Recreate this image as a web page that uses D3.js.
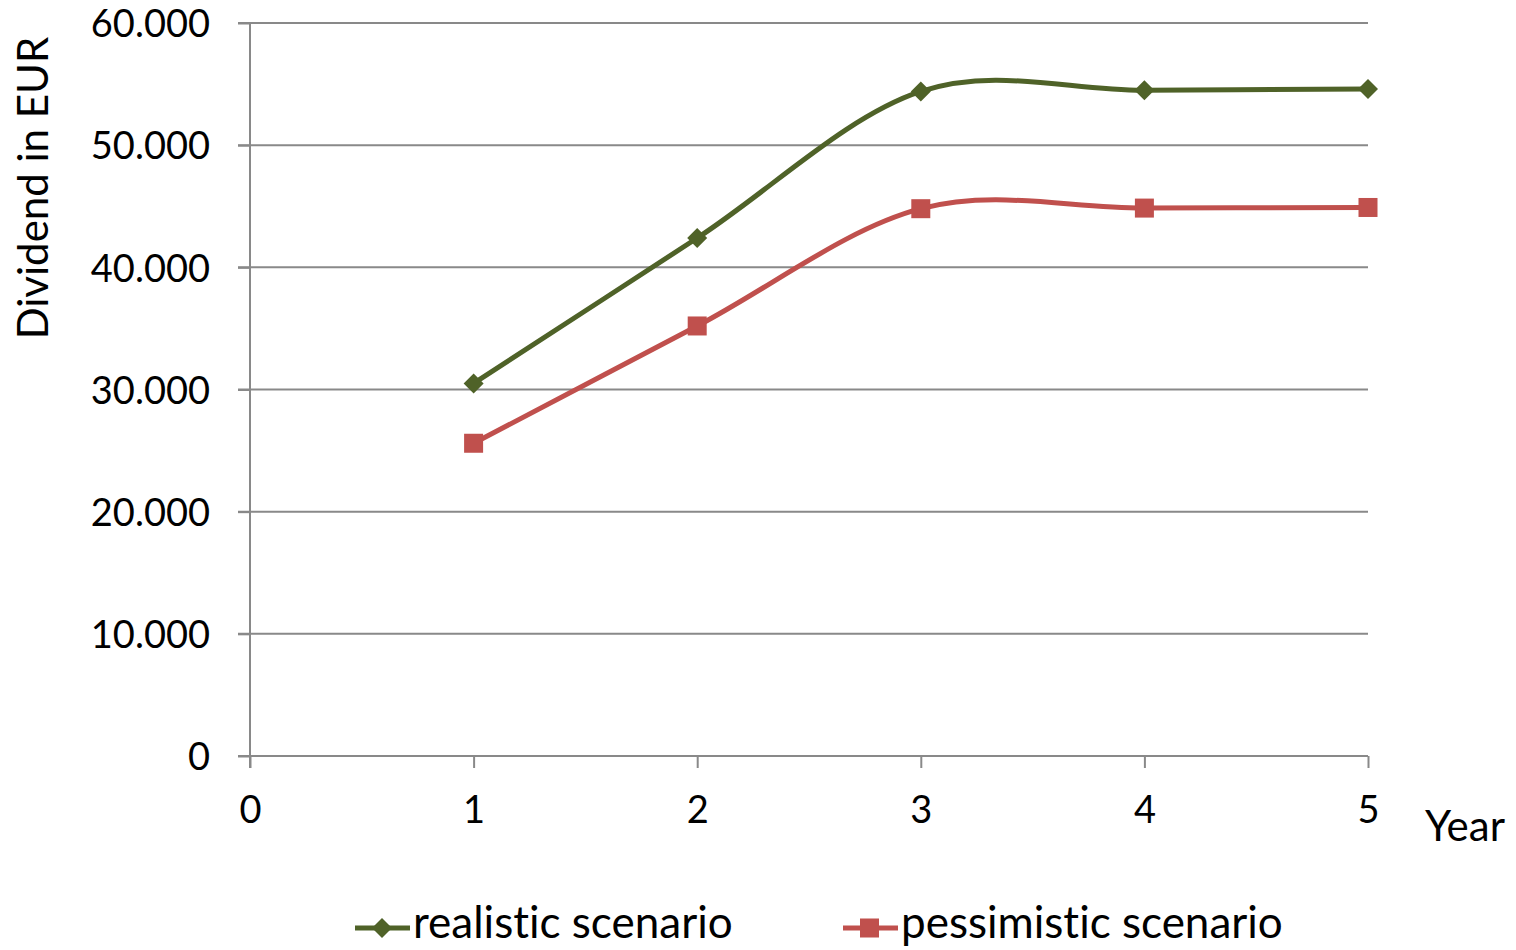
<!DOCTYPE html>
<html><head><meta charset="utf-8">
<script src="https://cdn.jsdelivr.net/npm/d3@7"></script>
<style>body{margin:0;background:#fff}svg{display:block}text{font-family:Lato,"Open Sans",sans-serif;fill:#000;font-variant-ligatures:none}</style>
</head><body><svg id="c" width="1516" height="950"></svg>
<script>
const years = [1, 2, 3, 4, 5];
const realistic = [30500, 42400, 54400, 54500, 54600];
const pessimistic = [25600, 35200, 44800, 44850, 44900];
const yTicks = [0, 10000, 20000, 30000, 40000, 50000, 60000];
const xTicks = [0, 1, 2, 3, 4, 5];
const seriesNames = ["realistic scenario", "pessimistic scenario"];

const svg = d3.select("#c");
const x = d3.scaleLinear().domain([0, 5]).range([250, 1368]);
const y = d3.scaleLinear().domain([0, 60000]).range([756, 23]);
const fmt = v => v === 0 ? "0" : d3.format(",")(v).replace(/,/g, ".");
const grid = "#898989";

// gridlines
svg.append("g").selectAll("line").data(yTicks.filter(d => d > 0)).join("line")
  .attr("x1", 238).attr("x2", x(5)).attr("y1", d => y(d)).attr("y2", d => y(d))
  .attr("stroke", grid).attr("stroke-width", 2);
// y axis
const ya = svg.append("g").attr("transform", `translate(${x(0)},0)`)
  .call(d3.axisLeft(y).tickValues(yTicks).tickFormat(fmt).tickSize(12).tickPadding(28));
ya.select(".domain").attr("stroke", grid).attr("stroke-width", 2).attr("d", `M0,${y(60000)}V${y(0)+12}`);
ya.selectAll(".tick line").attr("stroke", grid).attr("stroke-width", 2);
ya.selectAll(".tick text").attr("font-size", 38).attr("font-family", "Lato").attr("dy", "0.36em").attr("fill", "#000");
// x axis
const xa = svg.append("g").attr("transform", `translate(0,${y(0)})`)
  .call(d3.axisBottom(x).tickValues(xTicks).tickFormat(d3.format("d")).tickSize(12).tickPadding(28));
xa.select(".domain").attr("stroke", grid).attr("stroke-width", 2).attr("d", `M238,0H${x(5)}`);
xa.selectAll(".tick line").attr("stroke", grid).attr("stroke-width", 2);
xa.selectAll(".tick text").attr("font-size", 38).attr("font-family", "Lato").attr("fill", "#000");

// axis titles
svg.append("text").attr("transform", "translate(48,188) rotate(-90)").attr("text-anchor", "middle")
  .attr("font-size", 42).text("Dividend in EUR");
svg.append("text").attr("x", 1425).attr("y", 841).attr("font-size", 42).text("Year");

const colors = ["#4F6228", "#C0504D"];
const data = [realistic, pessimistic];
const line = d3.line().x((d, i) => x(years[i])).y(d => y(d)).curve(d3.curveCatmullRom.alpha(0));
data.forEach((s, k) => {
  svg.append("path").attr("d", line(s)).attr("fill", "none").attr("stroke", colors[k]).attr("stroke-width", 5);
});
// markers
svg.append("g").selectAll("path").data(realistic).join("path")
  .attr("transform", (d, i) => `translate(${x(years[i])},${y(d)})`)
  .attr("d", "M0,-10L10,0L0,10L-10,0Z").attr("fill", colors[0]);
svg.append("g").selectAll("rect").data(pessimistic).join("rect")
  .attr("x", (d, i) => x(years[i]) - 9.5).attr("y", d => y(d) - 9.5)
  .attr("width", 19).attr("height", 19).attr("fill", colors[1]);

// legend
const lg = [{x: 355, c: colors[0], n: seriesNames[0], m: "d"}, {x: 843, c: colors[1], n: seriesNames[1], m: "s"}];
lg.forEach(l => {
  const g = svg.append("g").attr("transform", `translate(${l.x},928)`);
  g.append("line").attr("x1", 0).attr("x2", 55).attr("stroke", l.c).attr("stroke-width", 5);
  if (l.m === "d") g.append("path").attr("d", "M27,-10L37,0L27,10L17,0Z").attr("fill", l.c);
  else g.append("rect").attr("x", 17).attr("y", -9.5).attr("width", 19).attr("height", 19).attr("fill", l.c);
  g.append("text").attr("x", 58).attr("y", 10).attr("font-size", 44).text(l.n);
});
</script></body></html>
